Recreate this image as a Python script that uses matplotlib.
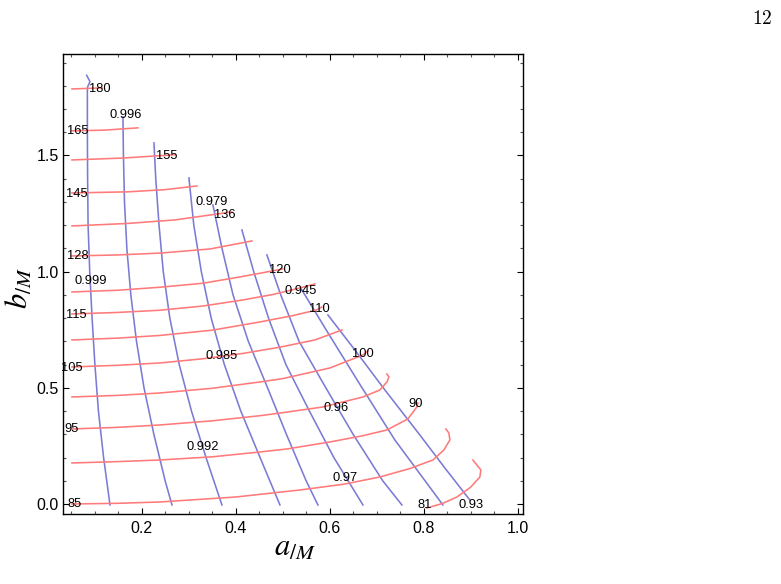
import matplotlib
matplotlib.use('Agg')
import matplotlib.pyplot as plt
from matplotlib.ticker import MultipleLocator, FormatStrFormatter

plt.rcParams['font.family'] = ['Liberation Sans', 'DejaVu Sans']
plt.rcParams['mathtext.fontset'] = 'stix'

# ---------------- data (a/M, b/M) ----------------
# red contours (labels 81 ... 180)
red_levels = [81, 85, 90, 95, 100, 105, 110, 115, 120, 128, 136, 145, 155, 165, 180]
red_a = {
    180: [0.0517, 0.1155],
    165: [0.0517, 0.1200, 0.1921],
    155: [0.0517, 0.1600, 0.2709],
    145: [0.0517, 0.1700, 0.2500, 0.3177],
    136: [0.0517, 0.1700, 0.2700, 0.3921],
    128: [0.0517, 0.1500, 0.2400, 0.3457, 0.4347],
    120: [0.0517, 0.1500, 0.2389, 0.3300, 0.4092, 0.5006],
    115: [0.0517, 0.1500, 0.2389, 0.3300, 0.4155, 0.4800, 0.5368, 0.5687],
    110: [0.0517, 0.1500, 0.2389, 0.3500, 0.4517, 0.5200, 0.5723, 0.5836],
    105: [0.0517, 0.1500, 0.2389, 0.3300, 0.4155, 0.4943, 0.5687, 0.6262],
    100: [0.0517, 0.1500, 0.2389, 0.3500, 0.4517, 0.5000, 0.6006, 0.6709, 0.6815],
    95:  [0.0517, 0.1500, 0.2389, 0.3500, 0.4517, 0.5000, 0.5857, 0.6709, 0.7070,
          0.7220, 0.7262, 0.7220],
    90:  [0.0517, 0.1500, 0.2389, 0.3500, 0.4517, 0.5091, 0.6006, 0.6700, 0.7220,
          0.7664, 0.7857, 0.7879],
    85:  [0.0517, 0.1500, 0.2389, 0.4000, 0.5368, 0.6300, 0.7070, 0.7700, 0.8198,
          0.8432, 0.8560, 0.8538, 0.8474],
    81:  [0.8070, 0.8400, 0.8709, 0.9000, 0.9198, 0.9219, 0.9049],
}
red_b = {
    180: [1.7865, 1.7908],
    165: [1.6062, 1.6090, 1.6190],
    155: [1.4808, 1.4890, 1.5033],
    145: [1.3388, 1.3435, 1.3530, 1.3689],
    136: [1.1967, 1.2075, 1.2225, 1.2570],
    128: [1.0676, 1.0720, 1.0800, 1.0977, 1.1322],
    120: [0.9126, 0.9200, 0.9330, 0.9500, 0.9772, 1.0116],
    115: [0.8179, 0.8245, 0.8340, 0.8520, 0.8782, 0.9020, 0.9298, 0.9471],
    110: [0.7060, 0.7140, 0.7255, 0.7480, 0.7835, 0.8100, 0.8351, 0.8480],
    105: [0.5898, 0.5970, 0.6070, 0.6250, 0.6480, 0.6750, 0.7060, 0.7490],
    100: [0.4606, 0.4675, 0.4778, 0.4980, 0.5252, 0.5395, 0.5854, 0.6414, 0.6586],
    95:  [0.3229, 0.3300, 0.3401, 0.3580, 0.3800, 0.3930, 0.4176, 0.4606, 0.4907,
          0.5252, 0.5467, 0.5596],
    90:  [0.1765, 0.1825, 0.1894, 0.2030, 0.2238, 0.2368, 0.2669, 0.2935, 0.3186,
          0.3659, 0.4176, 0.4348],
    85:  [0.0000, 0.0030, 0.0086, 0.0300, 0.0603, 0.0850, 0.1162, 0.1520, 0.1894,
          0.2324, 0.2755, 0.3056, 0.3228],
    81:  [-0.0172, 0.0020, 0.0301, 0.0720, 0.1162, 0.1464, 0.1894],
}

# blue contours (labels 0.999 ... 0.93)
blue_levels = [0.999, 0.996, 0.992, 0.985, 0.979, 0.97, 0.96, 0.945, 0.93]
blue_a = {
    0.999: [0.0830, 0.0900, 0.0850, 0.0845, 0.0845, 0.0850, 0.0860, 0.0895, 0.0945,
            0.1005, 0.1080, 0.1190, 0.1326],
    0.996: [0.1602, 0.1612, 0.1635, 0.1685, 0.1770, 0.1890, 0.2050, 0.2260, 0.2500, 0.2645],
    0.992: [0.2262, 0.2300, 0.2370, 0.2460, 0.2600, 0.2800, 0.3060, 0.3370, 0.3708],
    0.985: [0.3006, 0.3110, 0.3270, 0.3480, 0.3760, 0.4110, 0.4520, 0.4943],
    0.979: [0.3517, 0.3710, 0.3945, 0.4270, 0.4680, 0.5080, 0.5500, 0.5751],
    0.97:  [0.4134, 0.4385, 0.4700, 0.5070, 0.5570, 0.6090, 0.6709],
    0.96:  [0.4666, 0.4960, 0.5350, 0.5920, 0.6500, 0.7130, 0.7538],
    0.945: [0.5410, 0.6006, 0.6666, 0.7389, 0.8411],
    0.93:  [0.5964, 0.6538, 0.7177, 0.7921, 0.8453, 0.8985],
}
blue_b = {
    0.999: [1.8450, 1.8180, 1.7950, 1.7800, 1.6000, 1.4000, 1.2000, 1.0000, 0.8000,
            0.6000, 0.4000, 0.2000, -0.0040],
    0.996: [1.6659, 1.5000, 1.3000, 1.1000, 0.9000, 0.7000, 0.5000, 0.3000, 0.1000, -0.0040],
    0.992: [1.5540, 1.4000, 1.2000, 1.0000, 0.8000, 0.6000, 0.4000, 0.2000, -0.0040],
    0.985: [1.4034, 1.2000, 1.0000, 0.8000, 0.6000, 0.4000, 0.2000, -0.0040],
    0.979: [1.2871, 1.1000, 0.9000, 0.7000, 0.5000, 0.3000, 0.1000, -0.0040],
    0.97:  [1.1795, 1.0000, 0.8000, 0.6000, 0.4000, 0.2000, -0.0040],
    0.96:  [1.0719, 0.9000, 0.7000, 0.5000, 0.3000, 0.1000, -0.0040],
    0.945: [0.9212, 0.7232, 0.5080, 0.2755, -0.0040],
    0.93:  [0.8136, 0.6629, 0.4907, 0.2970, 0.1550, 0.0172],
}

# contour labels: (text, a, b)
label_text = ["180", "165", "0.996", "155", "145", "0.979", "136", "128", "120",
              "0.999", "0.945", "115", "110", "105", "0.985", "100", "95", "90",
              "0.96", "0.992", "0.97", "85", "81", "0.93"]
label_a = [0.1113, 0.0645, 0.1668, 0.2538, 0.0623, 0.3480, 0.3760, 0.0645, 0.4943,
           0.0921, 0.5390, 0.0613, 0.5772, 0.0517, 0.3709, 0.6709, 0.0517, 0.7825,
           0.6145, 0.3294, 0.6326, 0.0570, 0.8028, 0.9017]
label_b = [1.7870, 1.6070, 1.6745, 1.4980, 1.3332, 1.2990, 1.2440, 1.0676, 1.0073,
           0.9613, 0.9183, 0.8136, 0.8381, 0.5868, 0.6371, 0.6457, 0.3229, 0.4292,
           0.4146, 0.2468, 0.1134, 0.0000, -0.0040, -0.0040]

x_ticks = [0.2, 0.4, 0.6, 0.8, 1.0]
y_ticks = [0.0, 0.5, 1.0, 1.5]

# ---------------- figure ----------------
fig = plt.figure(figsize=(7.81, 5.84), dpi=100)
ax = fig.add_axes([0.0803, 0.1199, 0.589, 0.7877])

blue_col = '#7b7bd6'
red_col = '#ff7a7a'
for lv in blue_levels:
    ax.plot(blue_a[lv], blue_b[lv], color=blue_col, lw=1.15, solid_joinstyle='round')
for lv in red_levels:
    ax.plot(red_a[lv], red_b[lv], color=red_col, lw=1.15, solid_joinstyle='round')

for t, xa, yb in zip(label_text, label_a, label_b):
    ax.text(xa, yb, t, ha='center', va='center', fontsize=9.3, color='black')

ax.set_xlim(0.032, 1.011)
ax.set_ylim(-0.043, 1.937)
ax.set_xticks(x_ticks)
ax.set_yticks(y_ticks)
ax.xaxis.set_major_formatter(FormatStrFormatter('%.1f'))
ax.yaxis.set_major_formatter(FormatStrFormatter('%.1f'))
ax.xaxis.set_minor_locator(MultipleLocator(0.05))
ax.yaxis.set_minor_locator(MultipleLocator(0.1))
ax.tick_params(which='both', direction='in', top=True, right=True, labelsize=11.5)
ax.tick_params(which='major', length=4, width=0.8)
ax.tick_params(which='minor', length=2.5, width=0.8, color='#555555')
ax.tick_params(axis='x', pad=5)
ax.tick_params(axis='y', pad=3)
for s in ax.spines.values():
    s.set_linewidth(1.0)

fig.text(295 / 781, 1 - 548 / 584, r'$a_{/M}$', fontsize=22, ha='center', va='center')
fig.text(20 / 781, 1 - 288 / 584, r'$b_{/M}$', fontsize=22, ha='center', va='center', rotation=90)
fig.text(762 / 781, 1 - 19 / 584, r'$\mathrm{12}$', fontsize=14, ha='center', va='center',
         math_fontfamily='cm')

fig.savefig('out.png', dpi=100)
